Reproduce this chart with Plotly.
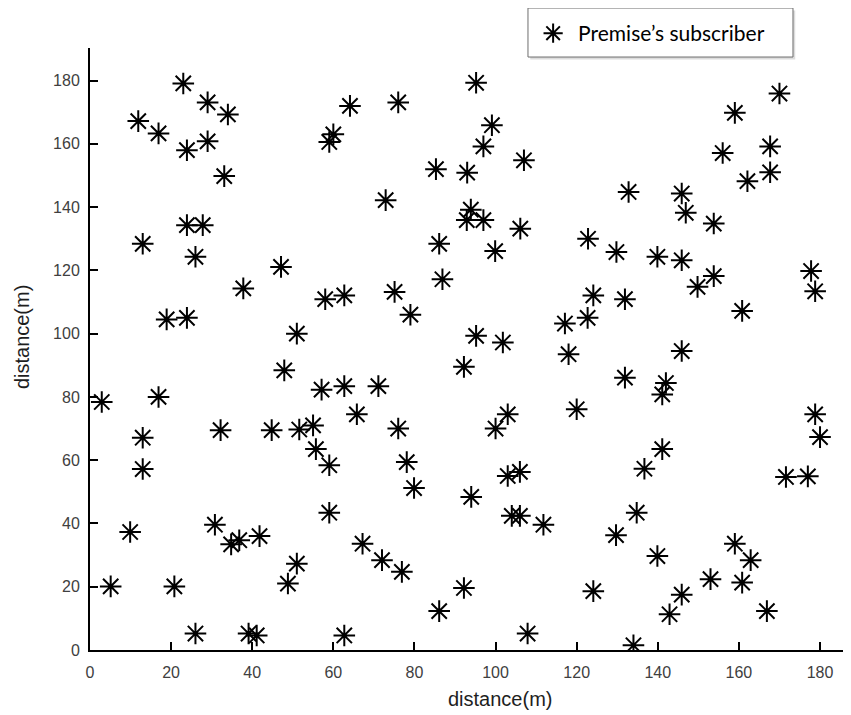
import plotly.graph_objects as go

# Subscriber positions (m)
x_vals = [11.9, 16.9, 23.0, 29.0, 34.0, 23.9, 29.0, 33.1, 23.9, 27.8, 13.0, 26.0, 47.1, 37.8, 18.9,
          23.9, 51.0, 58.0, 62.7, 59.0, 60.0, 64.1, 76.0, 95.2, 99.1, 97.0, 107.0, 85.3, 93.0, 72.9,
          93.9, 92.9, 97.0, 106.1, 86.1, 99.9, 122.8, 129.8, 132.8, 86.9, 75.1, 79.0, 95.2, 101.8, 117.1,
          122.7, 124.1, 131.9, 118.0, 170.0, 159.0, 167.7, 156.0, 167.7, 162.1, 145.9, 146.9, 153.8, 139.9,
          145.9, 177.8, 178.8, 153.8, 149.8, 160.8, 145.9, 2.9, 16.9, 13.0, 13.0, 47.9, 57.1, 62.7, 65.8,
          32.2, 44.8, 51.6, 55.0, 55.7, 59.0, 59.0, 9.9, 30.8, 34.8, 36.8, 41.8, 51.0, 48.8, 5.1,
          20.8, 26.0, 39.1, 41.1, 62.7, 92.2, 131.9, 71.1, 120.0, 103.0, 100.0, 76.0, 78.1, 79.9, 94.0,
          103.0, 106.0, 104.0, 106.0, 111.8, 129.7, 134.8, 136.7, 67.2, 72.0, 76.9, 92.2, 86.1, 124.1, 107.9,
          134.0, 142.0, 141.1, 178.8, 180.0, 141.1, 171.6, 177.0, 139.9, 159.0, 162.9, 153.0, 160.8, 145.9, 142.9,
          166.9]
y_vals = [167.2, 163.3, 179.1, 173.1, 169.3, 158.0, 160.8, 149.8, 134.3, 134.3, 128.4, 124.3, 121.1, 114.3, 104.5,
          105.0, 100.0, 110.9, 112.1, 160.6, 163.0, 172.0, 173.1, 179.3, 165.9, 159.2, 154.8, 152.0, 150.9, 142.2,
          139.2, 135.9, 135.9, 133.2, 128.4, 126.1, 130.0, 125.8, 144.8, 117.2, 113.2, 106.0, 99.3, 97.2, 103.2,
          105.0, 112.1, 110.9, 93.5, 175.9, 169.8, 159.2, 157.1, 151.0, 148.2, 144.3, 138.2, 134.8, 124.3,
          123.2, 119.8, 113.4, 118.2, 114.8, 107.2, 94.5, 78.4, 80.0, 67.1, 57.2, 88.4, 82.3, 83.4, 74.5,
          69.5, 69.5, 69.7, 71.0, 63.5, 58.4, 43.4, 37.3, 39.6, 33.4, 34.7, 36.0, 27.3, 21.0, 20.1,
          20.1, 5.2, 5.2, 4.6, 4.6, 89.5, 86.1, 83.4, 76.1, 74.5, 70.0, 70.0, 59.4, 51.2, 48.4,
          55.0, 56.3, 42.4, 42.4, 39.6, 36.3, 43.4, 57.3, 33.6, 28.4, 24.7, 19.6, 12.3, 18.6, 5.2,
          1.5, 84.4, 80.8, 74.5, 67.3, 63.5, 54.7, 54.9, 29.7, 33.6, 28.4, 22.4, 21.3, 17.5, 11.3,
          12.3]

tick_vals = [0, 20, 40, 60, 80, 100, 120, 140, 160, 180]
tick_text = [str(v) for v in tick_vals]

fig = go.Figure()
fig.add_trace(go.Scatter(
    x=x_vals, y=y_vals, mode="markers", name="Premise\u2019s subscriber",
    marker=dict(symbol="asterisk-open", size=18, color="black",
                line=dict(color="black", width=2)),
))

axis_common = dict(
    showline=True, linecolor="black", linewidth=2, mirror=False,
    ticks="inside", ticklen=8, tickwidth=1.5, tickcolor="black",
    showgrid=False, zeroline=False, automargin=False,
    tickfont=dict(family="Liberation Sans, Arial", size=16, color="#404040"),
    tickvals=tick_vals, ticktext=tick_text,
)

# legend frame (with light shadow), in paper coordinates
box = dict(x0=0.5778, x1=0.9274, y0=0.985, y1=1.0664)

fig.update_layout(
    width=843, height=707,
    margin=dict(l=82, r=3, t=40, b=65, autoexpand=False),
    plot_bgcolor="white", paper_bgcolor="white",
    xaxis=dict(range=[0, 186.9], ticklabelstandoff=7, **axis_common),
    yaxis=dict(range=[0, 190.3], ticklabelstandoff=5, **axis_common),
    showlegend=True,
    legend=dict(x=0.578, y=1.024, xanchor="left", yanchor="middle",
                borderwidth=0, bgcolor="rgba(0,0,0,0)",
                font=dict(family="Lato, Open Sans", size=21, color="black"),
                itemwidth=40),
    shapes=[
        dict(type="rect", xref="paper", yref="paper",
             x0=box["x0"] + 0.003, x1=box["x1"] + 0.003,
             y0=box["y0"] - 0.004, y1=box["y1"] - 0.004,
             line=dict(width=0), fillcolor="#dcdcdc", layer="above"),
        dict(type="rect", xref="paper", yref="paper",
             x0=box["x0"], x1=box["x1"], y0=box["y0"], y1=box["y1"],
             line=dict(color="#6e6e6e", width=1), fillcolor="white", layer="above"),
    ],
    annotations=[
        dict(text="distance(m)", x=0.541, y=-0.081, xref="paper", yref="paper",
             showarrow=False, font=dict(family="Liberation Sans, Arial", size=20, color="#1e1e1e"),
             xanchor="center", yanchor="middle"),
        dict(text="distance(m)", x=-0.0895, y=0.52, xref="paper", yref="paper",
             showarrow=False, textangle=-90,
             font=dict(family="Liberation Sans, Arial", size=20, color="#1e1e1e"),
             xanchor="center", yanchor="middle"),
    ],
)

fig.write_html("out.html")
